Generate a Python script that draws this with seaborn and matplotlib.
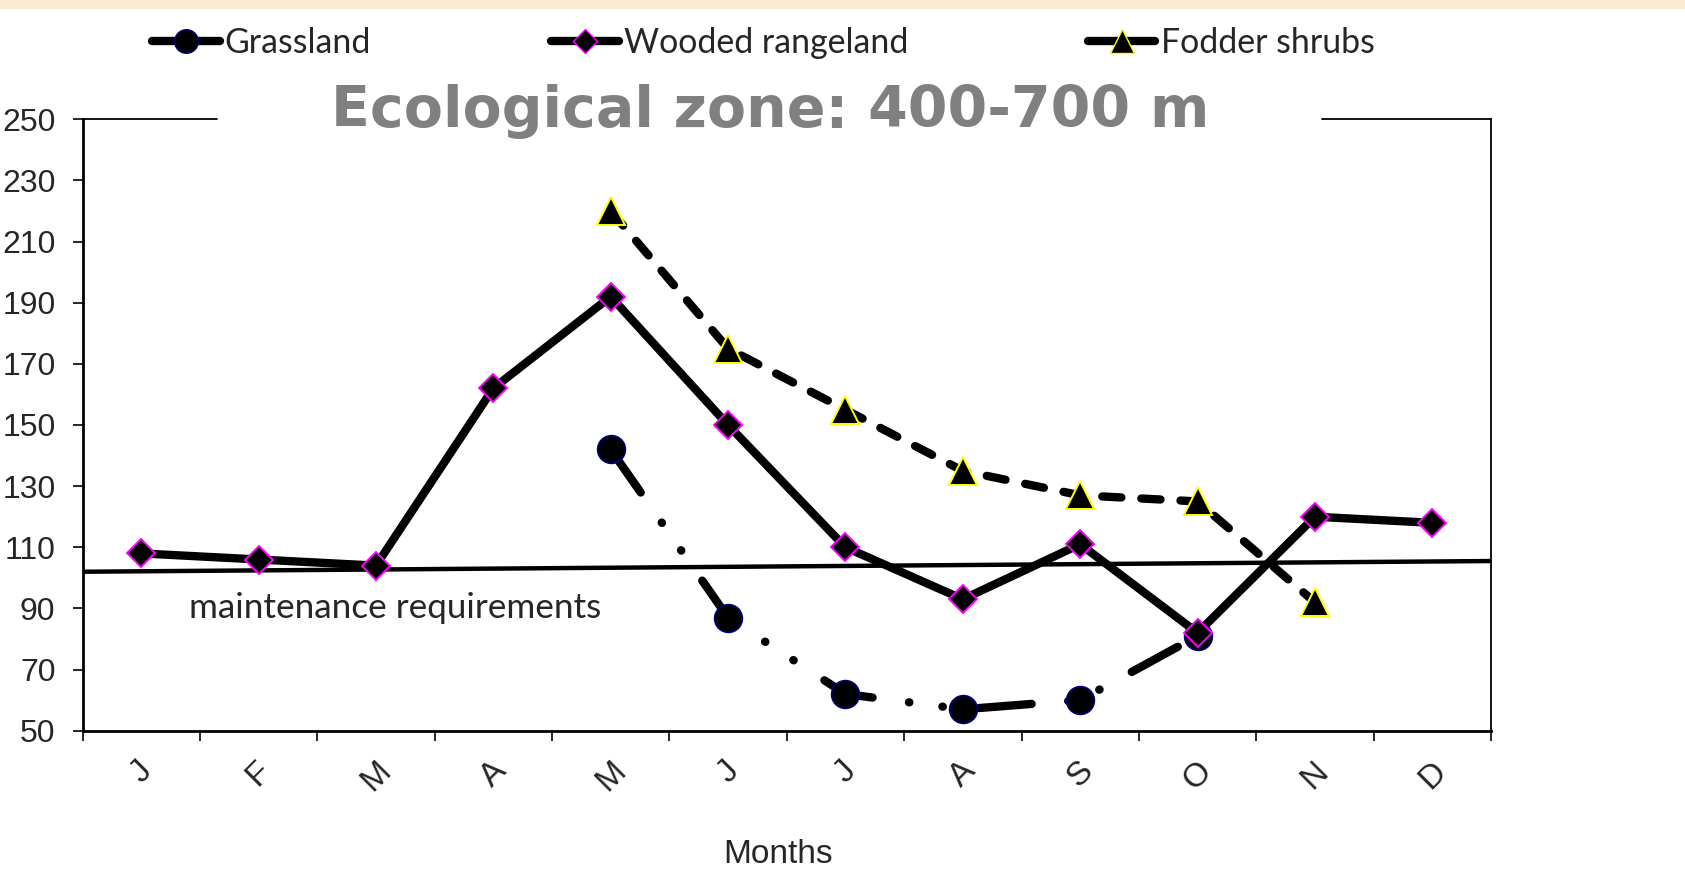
import numpy as np
import pandas as pd
import matplotlib.pyplot as plt
import seaborn as sns
from matplotlib.lines import Line2D
from matplotlib.patches import Rectangle

# data
months = ['J', 'F', 'M', 'A', 'M', 'J', 'J', 'A', 'S', 'O', 'N', 'D']
grassland = [np.nan, np.nan, np.nan, np.nan, 142, 87, 62, 57, 60, 81, np.nan, np.nan]
wooded = [108, 106, 104, 162, 192, 150, 110, 93, 111, 82, 120, 118]
fodder = [np.nan, np.nan, np.nan, np.nan, 220, 175, 155, 135, 127, 125, 92, np.nan]
maint_x = [-0.5, 11.5]
maint_y = [102, 105.5]
yticks = list(range(50, 251, 20))

df = pd.DataFrame({'idx': range(len(months)), 'month': months,
                   'Grassland': grassland, 'Wooded rangeland': wooded,
                   'Fodder shrubs': fodder})

sns.set_theme(style='white')
plt.rcParams['font.family'] = ['Liberation Sans', 'DejaVu Sans']

fig = plt.figure(figsize=(16.85, 8.73), dpi=100)
ax = fig.add_axes([82.5 / 1685, 1 - 730.7 / 873, 1408.5 / 1685, 611.4 / 873])

# pale band at the very top of the slide
fig.patches.append(Rectangle((0, 1 - 8 / 873), 1, 8 / 873, transform=fig.transFigure,
                             color='#f8ecd2', zorder=0))

lw = 6.0
sns.lineplot(x=maint_x, y=maint_y, ax=ax, color='black', linewidth=3.2, legend=False)

sns.lineplot(data=df, x='idx', y='Grassland', ax=ax, color='black', linewidth=lw,
             linestyle=(0, (6.3, 4.4, 0.05, 4.0, 0.05, 4.4)), dash_capstyle='round',
             marker='o', markersize=20, markerfacecolor='black',
             markeredgecolor='#000080', markeredgewidth=1.2, legend=False)
sns.lineplot(data=df, x='idx', y='Wooded rangeland', ax=ax, color='black', linewidth=lw,
             solid_capstyle='round', marker='D', markersize=14.5, markerfacecolor='black',
             markeredgecolor='#ff00ff', markeredgewidth=1.4, legend=False)
sns.lineplot(data=df, x='idx', y='Fodder shrubs', ax=ax, color='black', linewidth=lw,
             linestyle=(0, (2.3, 2.4)), dash_capstyle='round',
             marker='^', markersize=20, markerfacecolor='black',
             markeredgecolor='#ffff00', markeredgewidth=1.4, legend=False)

ax.text(0.407, 86.9, 'maintenance requirements', fontsize=25.3, family='Lato',
        ha='left', va='baseline')

ax.set_xlim(-0.5, 11.5)
ax.set_ylim(50, 250)
ax.set_yticks(yticks)
ax.set_xticks(range(len(months)))
ax.set_xticklabels(months, rotation=45, ha='center')
ax.set_xticks(np.arange(-0.5, 12, 1), minor=True)
ax.tick_params(axis='x', which='major', length=0, labelsize=24, pad=18)
ax.tick_params(axis='x', which='minor', length=7.5, width=1.4, direction='out', bottom=True)
ax.tick_params(axis='y', length=7.5, width=1.4, direction='out', left=True,
               labelsize=23, pad=12)
ax.set_ylabel('')
ax.set_xlabel('Months', fontsize=24, va='center')
ax.xaxis.set_label_coords(0.494, -0.202)

for side in ['left', 'bottom']:
    ax.spines[side].set_linewidth(2.0)
    ax.spines[side].set_color('black')
ax.spines['right'].set_linewidth(1.3)
ax.spines['right'].set_color('black')
ax.spines['top'].set_visible(False)
# top border broken by the title
ax.axhline(250, xmin=0, xmax=0.0955, color='black', linewidth=1.3, clip_on=False)
ax.axhline(250, xmin=0.880, xmax=1, color='black', linewidth=1.3, clip_on=False)

ax.text(0.488, 1.012, 'Ecological zone: 400-700 m', transform=ax.transAxes,
        ha='center', va='center', fontsize=41, fontweight='bold',
        family='DejaVu Sans', color='#808080')

handles = [
    Line2D([], [], color='black', linewidth=lw, solid_capstyle='round', marker='o',
           markersize=17, markerfacecolor='black', markeredgecolor='#000080'),
    Line2D([], [], color='black', linewidth=lw, solid_capstyle='round', marker='D',
           markersize=12.5, markerfacecolor='black', markeredgecolor='#ff00ff'),
    Line2D([], [], color='black', linewidth=lw, solid_capstyle='round', marker='^',
           markersize=17, markerfacecolor='black', markeredgecolor='#ffff00'),
]
fig.legend(handles, ['Grassland', 'Wooded rangeland', 'Fodder shrubs'],
           loc='center left', bbox_to_anchor=(152 / 1685, 1 - 43 / 873), ncol=3,
           frameon=False, prop={'family': 'Lato', 'size': 24.4}, handlelength=2.0,
           handletextpad=0.15, columnspacing=5.3, borderpad=0, borderaxespad=0)

fig.savefig('out.png', dpi=100, facecolor='white')
